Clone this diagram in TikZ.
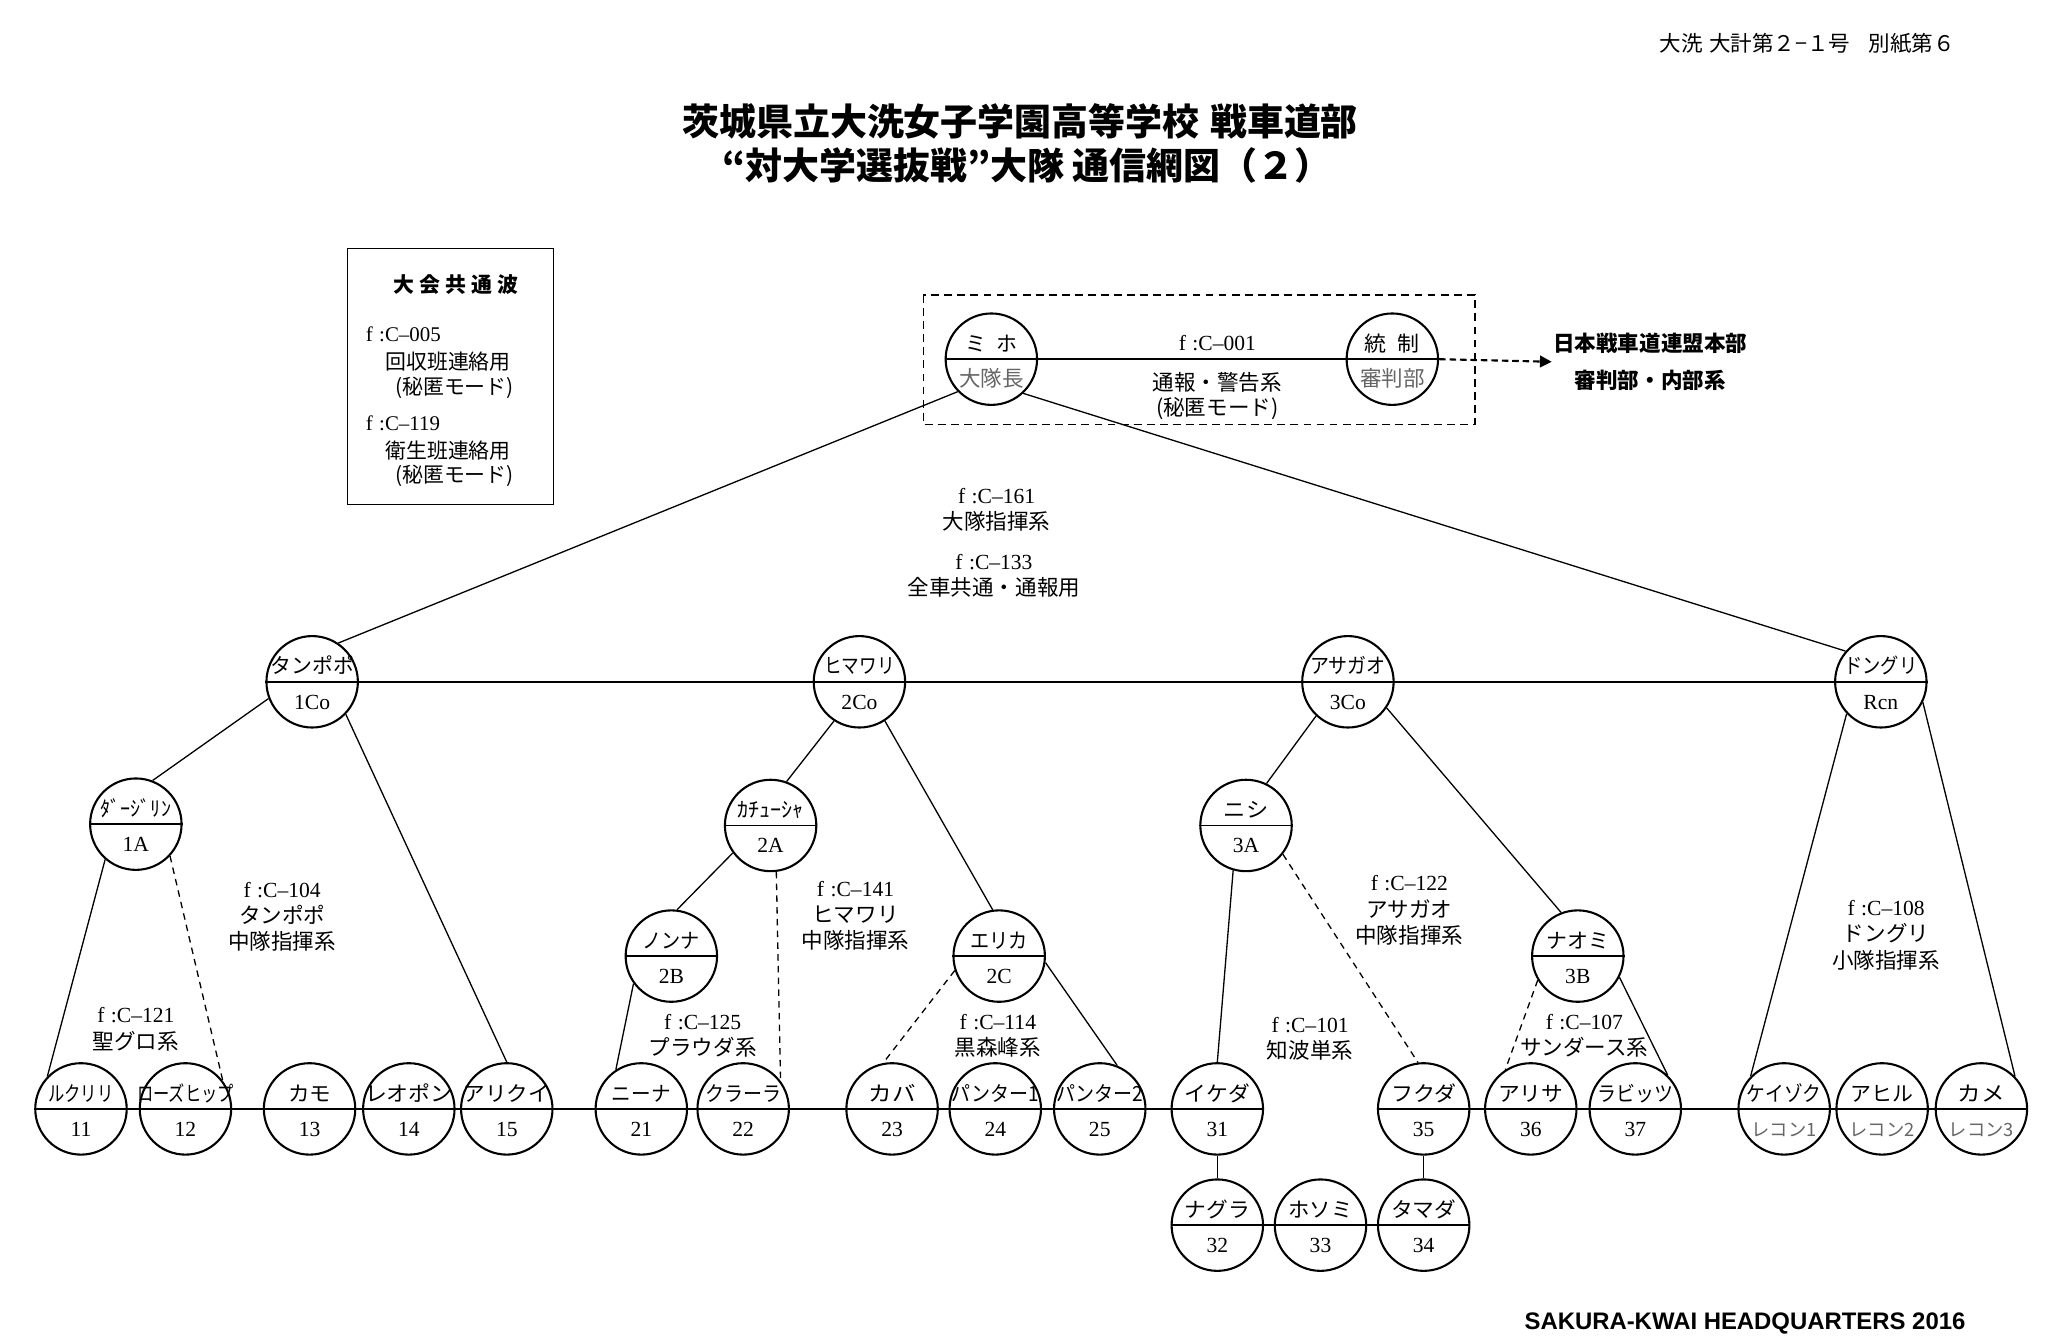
\documentclass[tikz,border=0pt]{standalone}
\usepackage{fontspec}
\usepackage{graphicx}
\setmainfont{Liberation Serif}
\newfontfamily\jp{Noto Sans CJK JP}
\newfontfamily\hdsans{Liberation Sans}
\usetikzlibrary{arrows.meta}
\definecolor{txtgray}{gray}{0.4}
\newcommand\fitto[2]{\resizebox{#1pt}{\height}{#2}}
\newcommand\fq[1]{{\rmfamily f\hspace{0.3em}:C\textendash #1}}
\newcommand\gr[1]{{\jp\fontsize{14}{14}\selectfont\color{txtgray}#1}}
\tikzset{
  unitc/.style={circle, draw, line width=1.6pt, minimum size=70pt, inner sep=0pt},
  toptxt/.style={anchor=base, yshift=6pt, inner sep=0pt, font=\jp\fontsize{16}{16}\selectfont},
  bottxt/.style={anchor=base, yshift=-21pt, inner sep=0pt, font=\fontsize{16.5}{16}\selectfont},
  conn/.style={line width=1pt},
  hconn/.style={line width=1.4pt},
  dconn/.style={line width=1pt, dash pattern=on 5pt off 4pt},
  lbl/.style={align=center, font=\jp\fontsize{16.5}{20}\selectfont, inner sep=0pt},
  legtxt/.style={font=\jp\fontsize{16}{16}\selectfont, inner sep=0pt},
}
\newcommand\unitnode[6]{%
  \node[unitc] (#1) at (#2,#3) {};
  \draw[hconn] (#1.west) -- (#1.east);
  \node[toptxt] (#1-t) at (#1.center) {\fitto{#4}{#5}};
  \node[bottxt] (#1-b) at (#1.center) {#6};
}
\begin{document}
\begin{tikzpicture}[x=1pt,y=-1pt]
\useasboundingbox (0,0) rectangle (1568,1024);
\fill[white] (0,0) rectangle (1568,1024);

% header texts
\node[anchor=east, inner sep=0pt, font=\jp\fontsize{16.5}{16.5}\selectfont] (docno) at (1497,33) {大洗\hspace{5pt}大計第２−１号\hspace{14pt}別紙第６};
\node[inner sep=0pt, font=\jp\bfseries\fontsize{28.3}{28.3}\selectfont] (title1) at (781,93) {茨城県立大洗女子学園高等学校\hspace{8pt}戦車道部};
\node[inner sep=0pt, font=\jp\bfseries\fontsize{28.3}{28.3}\selectfont] (title2) at (786,127) {“対大学選抜戦”大隊\hspace{6pt}通信網図（２）};
\node[anchor=east, inner sep=0pt, font=\hdsans\bfseries\fontsize{18.3}{18.3}\selectfont] (sakura) at (1505,1013) {SAKURA-KWAI HEADQUARTERS 2016};

% legend
\draw[line width=1pt] (266,190) rectangle (424,386);
\node[legtxt, font=\jp\bfseries\fontsize{16}{16}\selectfont] (leg0) at (349,218) {大\hspace{4pt}会\hspace{4pt}共\hspace{4pt}通\hspace{4pt}波};
\node[legtxt, anchor=west] (leg1) at (280,256) {\fq{005}};
\node[legtxt] (leg2) at (343,277) {回収班連絡用};
\node[legtxt] (leg3) at (348,297) {(秘匿モード)};
\node[legtxt, anchor=west] (leg4) at (280,324) {\fq{119}};
\node[legtxt] (leg5) at (343,345) {衛生班連絡用};
\node[legtxt] (leg6) at (348,364) {(秘匿モード)};

% top group
\draw[line width=1.4pt, dash pattern=on 6pt off 4pt] (707,226) rectangle (1129,325);
\unitnode{miho}{759}{275}{40}{ミ\hspace{8pt}ホ}{{\jp\color{txtgray}大隊長}}
\unitnode{tousei}{1066}{275}{42}{統\hspace{8pt}制}{{\jp\color{txtgray}審判部}}
\draw[hconn] (miho.west) -- (tousei.east);
\node[lbl] (lab001) at (932,263) {\fq{001}};
\node[lbl, font=\jp\fontsize{16.5}{19}\selectfont] (lab001b) at (932,303) {通報・警告系\\(秘匿モード)};
\node[align=center, inner sep=1pt, font=\jp\bfseries\fontsize{16.5}{28}\selectfont, anchor=west] (jfed) at (1188,277) {日本戦車道連盟本部\\審判部・内部系};
\draw[line width=1.6pt, dash pattern=on 5pt off 3pt, -{Triangle[length=9pt,width=9pt]}] (tousei.east) -- (jfed.west);

\node[lbl] (lab161) at (763,390) {\fq{161}\\大隊指揮系};
\node[lbl] (lab133) at (761,441) {\fq{133}\\全車共通・通報用};

% level 2
\unitnode{tan}{239}{522}{64}{タンポポ}{1Co}
\unitnode{hima}{658}{522}{54}{ヒマワリ}{2Co}
\unitnode{asa}{1032}{522}{58}{アサガオ}{3Co}
\unitnode{don}{1440}{522}{56}{ドングリ}{Rcn}
\draw[hconn] (tan.west) -- (don.east);

% level 3 / 4
\unitnode{dar}{104}{631}{54}{ﾀﾞｰｼﾞﾘﾝ}{1A}
\unitnode{kat}{590}{632}{51}{ｶﾁｭｰｼｬ}{2A}
\unitnode{nishi}{954}{632}{34}{ニシ}{3A}
\unitnode{non}{514}{732}{44}{ノンナ}{2B}
\unitnode{eri}{765}{732}{44}{エリカ}{2C}
\unitnode{nao}{1208}{732}{48}{ナオミ}{3B}

% bottom row
\unitnode{n11}{62}{849}{50}{ルクリリ}{11}
\unitnode{n12}{142}{849}{74}{ローズヒップ}{12}
\unitnode{n13}{237}{849}{33}{カモ}{13}
\unitnode{n14}{313}{849}{67}{レオポン}{14}
\unitnode{n15}{388}{849}{66}{アリクイ}{15}
\unitnode{n21}{491}{849}{45}{ニーナ}{21}
\unitnode{n22}{569}{849}{58}{クラーラ}{22}
\unitnode{n23}{683}{849}{36}{カバ}{23}
\unitnode{n24}{762}{849}{67}{パンター1}{24}
\unitnode{n25}{842}{849}{67}{パンター2}{25}
\unitnode{n31}{932}{849}{50}{イケダ}{31}
\unitnode{n35}{1090}{849}{50}{フクダ}{35}
\unitnode{n36}{1172}{849}{50}{アリサ}{36}
\unitnode{n37}{1252}{849}{58}{ラビッツ}{37}
\unitnode{kei}{1366}{849}{57}{ケイゾク}{\gr{レコン1}}
\unitnode{ahi}{1441}{849}{48}{アヒル}{\gr{レコン2}}
\unitnode{kame}{1517}{849}{36}{カメ}{\gr{レコン3}}
\draw[hconn] (n11.west) -- (n31.east);
\draw[hconn] (n35.west) -- (kame.east);

% row 3
\unitnode{n32}{932}{938}{50}{ナグラ}{32}
\unitnode{n33}{1011}{938}{49}{ホソミ}{33}
\unitnode{n34}{1090}{938}{50}{タマダ}{34}
\draw[hconn] (n32.west) -- (n34.east);
\draw[conn] (n31.south) -- (n32.north);
\draw[conn] (n35.south) -- (n34.north);

% connectors
\draw[conn] (miho.-136) -- (tan.56);
\draw[conn] (miho.-47) -- (don.139);
\draw[conn] (tan.-159) -- (dar.69);
\draw[conn] (tan.-44) -- (n15.90);
\draw[conn] (dar.-131) -- (n11.136);
\draw[dconn] (dar.-43) -- (n12.37);
\draw[conn] (hima.-123) -- (kat.70);
\draw[conn] (hima.-57) -- (eri.98);
\draw[conn] (kat.-144) -- (non.83);
\draw[dconn] (kat.-83) -- (n22.37);
\draw[conn] (non.-144) -- (n21.123);
\draw[dconn] (eri.-162) -- (n23.101);
\draw[conn] (eri.-8) -- (n25.68);
\draw[conn] (asa.-133) -- (nishi.64);
\draw[conn] (asa.-34) -- (nao.111);
\draw[conn] (nishi.-106) -- (n31.90);
\draw[dconn] (nishi.-38) -- (n35.97);
\draw[dconn] (nao.-149) -- (n36.123);
\draw[conn] (nao.-27) -- (n37.46);
\draw[conn] (don.-137) -- (kei.136);
\draw[conn] (don.-26) -- (kame.44);

% labels
\node[lbl] (lab104) at (216,702) {\fq{104}\\タンポポ\\中隊指揮系};
\node[lbl] (lab121) at (104,788) {\fq{121}\\聖グロ系};
\node[lbl] (lab141) at (655,701) {\fq{141}\\ヒマワリ\\中隊指揮系};
\node[lbl] (lab125) at (538,793) {\fq{125}\\プラウダ系};
\node[lbl] (lab114) at (764,793) {\fq{114}\\黒森峰系};
\node[lbl] (lab122) at (1079,697) {\fq{122}\\アサガオ\\中隊指揮系};
\node[lbl] (lab101) at (1003,795) {\fq{101}\\知波単系};
\node[lbl] (lab107) at (1213,793) {\fq{107}\\サンダース系};
\node[lbl] (lab108) at (1444,716) {\fq{108}\\ドングリ\\小隊指揮系};
\end{tikzpicture}
\end{document}
